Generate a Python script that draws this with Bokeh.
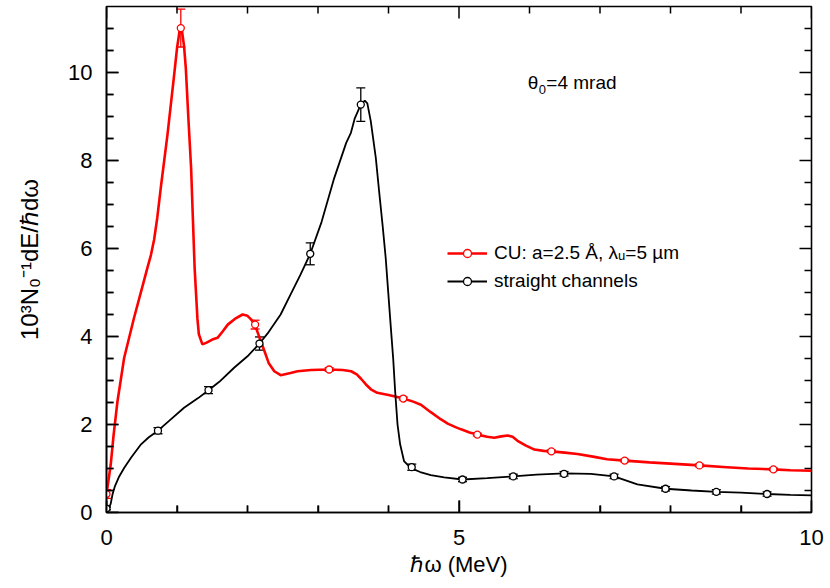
import math
from bokeh.plotting import figure
from bokeh.models import (Range1d, LinearAxis, FixedTicker, Whisker, TeeHead,
                          ColumnDataSource, Label, Legend, LegendItem)
from bokeh.embed import file_html
from bokeh.resources import INLINE

# ---------------- data ----------------
red_curve_x = [0.0, 0.03, 0.06, 0.10, 0.156, 0.25, 0.39, 0.53, 0.58, 0.63, 0.675, 0.72, 0.77,
               0.865, 0.96, 1.00, 1.04, 1.07, 1.10, 1.125, 1.16, 1.20, 1.25, 1.29, 1.31, 1.36,
               1.42, 1.50, 1.575, 1.65, 1.72, 1.82, 1.93, 2.00, 2.05, 2.108, 2.17, 2.24, 2.30,
               2.38, 2.47, 2.61, 2.71, 2.90, 3.158, 3.35, 3.47, 3.55, 3.61, 3.68, 3.75, 3.84,
               4.00, 4.08, 4.21, 4.35, 4.46, 4.60, 4.74, 4.84, 4.95, 5.03, 5.15, 5.26, 5.40,
               5.50, 5.60, 5.69, 5.76, 5.83, 5.95, 6.07, 6.20, 6.31, 6.50, 6.68, 6.90, 7.10,
               7.35, 7.70, 8.00, 8.41, 8.80, 9.10, 9.46, 9.70, 10.0]
red_curve_y = [0.42, 0.75, 1.09, 1.75, 2.53, 3.51, 4.42, 5.26, 5.56, 5.85, 6.20, 6.70, 7.38,
               8.59, 9.95, 10.55, 10.98, 10.95, 10.60, 10.10, 9.00, 7.83, 5.56, 4.40, 4.05, 3.82,
               3.86, 3.93, 3.97, 4.12, 4.27, 4.40, 4.50, 4.47, 4.39, 4.25, 3.98, 3.67, 3.40,
               3.21, 3.12, 3.17, 3.21, 3.24, 3.25, 3.24, 3.21, 3.14, 3.04, 2.91, 2.80, 2.72,
               2.67, 2.64, 2.59, 2.52, 2.45, 2.28, 2.12, 2.02, 1.94, 1.89, 1.82, 1.77, 1.72,
               1.70, 1.73, 1.75, 1.72, 1.63, 1.52, 1.43, 1.40, 1.39, 1.36, 1.33, 1.27, 1.21,
               1.18, 1.14, 1.11, 1.07, 1.03, 1.00, 0.98, 0.96, 0.95]

black_curve_x = [0.0, 0.04, 0.06, 0.085, 0.12, 0.18, 0.25, 0.35, 0.49, 0.60, 0.73, 0.90, 1.10,
                 1.30, 1.447, 1.60, 1.81, 2.00, 2.17, 2.30, 2.47, 2.61, 2.75, 2.89, 3.05, 3.23,
                 3.40, 3.465, 3.52, 3.607, 3.664, 3.70, 3.749, 3.82, 3.867, 3.915, 3.96, 3.995,
                 4.03, 4.066, 4.094, 4.128, 4.165, 4.22, 4.317, 4.45, 4.60, 4.79, 5.05, 5.40,
                 5.77, 6.10, 6.49, 6.87, 7.20, 7.53, 7.93, 8.30, 8.65, 9.00, 9.37, 9.70, 10.0]
black_curve_y = [0.09, 0.12, 0.20, 0.41, 0.60, 0.82, 1.01, 1.25, 1.55, 1.71, 1.86, 2.10, 2.38,
                 2.60, 2.78, 2.97, 3.29, 3.55, 3.84, 4.10, 4.50, 4.95, 5.40, 5.88, 6.60, 7.60,
                 8.40, 8.62, 8.95, 9.27, 9.36, 9.30, 8.89, 8.06, 7.30, 6.55, 5.79, 5.03,
                 4.27, 3.51, 2.76, 2.00, 1.55, 1.17, 1.01, 0.92, 0.85, 0.80, 0.75, 0.78,
                 0.82, 0.86, 0.89, 0.88, 0.82, 0.64, 0.54, 0.50, 0.47, 0.45, 0.42, 0.40, 0.39]

red_pts_x = [0.0, 1.054, 2.108, 3.158, 4.21, 5.26, 6.31, 7.35, 8.41, 9.46]
red_pts_y = [0.42, 11.01, 4.27, 3.25, 2.59, 1.77, 1.39, 1.18, 1.07, 0.98]
red_err = [0.10, 0.43, 0.10, 0.04, 0.03, 0.03, 0.03, 0.03, 0.03, 0.03]

black_pts_x = [0.0, 0.73, 1.447, 2.17, 2.89, 3.607, 4.33, 5.05, 5.77, 6.49, 7.20, 7.93, 8.65, 9.37]
black_pts_y = [0.09, 1.86, 2.78, 3.84, 5.88, 9.27, 1.03, 0.75, 0.82, 0.88, 0.82, 0.54, 0.47, 0.42]
black_err = [0.03, 0.07, 0.08, 0.15, 0.25, 0.38, 0.07, 0.05, 0.05, 0.05, 0.05, 0.05, 0.05, 0.05]

x_major_ticks = [0, 5, 10]
x_minor_ticks = [1, 2, 3, 4, 6, 7, 8, 9]
y_major_ticks = [0, 2, 4, 6, 8, 10]
y_minor_ticks = [0.5, 1, 1.5, 2.5, 3, 3.5, 4.5, 5, 5.5, 6.5, 7, 7.5, 8.5, 9, 9.5, 10.5, 11]

series_labels = ["CU: a=2.5 Å, λᵤ=5 µm", "straight channels"]
x_label = "ℏω (MeV)"
y_label = "10³N₀⁻¹dE/ℏdω"
annot_parts = ["θ", "0", "=4 mrad"]

RED = "#ff0000"
BLACK = "#000000"
FONT = "Liberation Sans"

X0, X1, Y0, Y1 = 0.0, 10.0, 0.0, 11.5
FW, FH = 705, 506

p = figure(frame_width=FW, frame_height=FH,
           min_border_left=106, min_border_right=19, min_border_top=6, min_border_bottom=76,
           x_range=Range1d(X0, X1), y_range=Range1d(Y0, Y1),
           output_backend="svg", toolbar_location=None,
           x_axis_location=None, y_axis_location=None)
p.xgrid.visible = False
p.ygrid.visible = False
p.outline_line_color = BLACK
p.outline_line_width = 1.6

def style_axis(ax):
    ax.axis_line_color = BLACK
    ax.axis_line_width = 1.6
    ax.major_tick_line_color = BLACK
    ax.minor_tick_line_color = BLACK
    ax.major_tick_line_width = 1.5
    ax.minor_tick_line_width = 1.5
    ax.major_tick_in = 12
    ax.major_tick_out = 0
    ax.minor_tick_in = 7
    ax.minor_tick_out = 0
    ax.major_label_text_font = FONT
    ax.major_label_text_color = BLACK
    ax.major_label_text_font_size = "22px"
    ax.axis_label_text_font = FONT
    ax.axis_label_text_font_style = "normal"
    ax.axis_label_text_color = BLACK

xb = LinearAxis(ticker=FixedTicker(ticks=x_major_ticks, minor_ticks=x_minor_ticks))
style_axis(xb)
xb.major_label_standoff = 17
xb.axis_label = x_label
xb.axis_label_text_font_size = "22px"
xb.axis_label_standoff = 4
p.add_layout(xb, "below")

yl = LinearAxis(ticker=FixedTicker(ticks=y_major_ticks, minor_ticks=y_minor_ticks))
style_axis(yl)
yl.major_label_standoff = 14
yl.axis_label = y_label
yl.axis_label_text_font_size = "24px"
yl.axis_label_standoff = 22
p.add_layout(yl, "left")

# inward tick marks on all four edges, drawn as segments inside the frame
px_x = (X1 - X0) / FW   # data units per pixel, x
px_y = (Y1 - Y0) / FH   # data units per pixel, y
MAJ, MIN = 12, 7
sx0, sy0, sx1, sy1 = [], [], [], []
for ticks, ln in ((x_major_ticks, MAJ), (x_minor_ticks, MIN)):
    for t in ticks:
        sx0 += [float(t), float(t)]; sx1 += [float(t), float(t)]
        sy0 += [Y0, Y1]; sy1 += [Y0 + ln * px_y, Y1 - ln * px_y]
for ticks, ln in ((y_major_ticks, MAJ), (y_minor_ticks, MIN)):
    for t in ticks:
        sy0 += [float(t), float(t)]; sy1 += [float(t), float(t)]
        sx0 += [X0, X1]; sx1 += [X0 + ln * px_x, X1 - ln * px_x]
p.segment(sx0, sy0, sx1, sy1, line_color=BLACK, line_width=1.5)

# curves
r_line = p.line(red_curve_x, red_curve_y, line_color=RED, line_width=2.6)
b_line = p.line(black_curve_x, black_curve_y, line_color=BLACK, line_width=1.8)

# error bars
rsrc = ColumnDataSource(dict(x=red_pts_x, y=red_pts_y,
                             lo=[v - e for v, e in zip(red_pts_y, red_err)],
                             hi=[v + e for v, e in zip(red_pts_y, red_err)]))
bsrc = ColumnDataSource(dict(x=black_pts_x, y=black_pts_y,
                             lo=[v - e for v, e in zip(black_pts_y, black_err)],
                             hi=[v + e for v, e in zip(black_pts_y, black_err)]))
for src, col in ((rsrc, RED), (bsrc, BLACK)):
    w = Whisker(source=src, base="x", lower="lo", upper="hi", line_color=col, line_width=1.3,
                upper_head=TeeHead(size=9, line_color=col, line_width=1.3),
                lower_head=TeeHead(size=9, line_color=col, line_width=1.3))
    p.add_layout(w)

r_pts = p.scatter("x", "y", source=rsrc, marker="circle", size=7, fill_color="white",
                  line_color=RED, line_width=1.3)
b_pts = p.scatter("x", "y", source=bsrc, marker="circle", size=7, fill_color="white",
                  line_color=BLACK, line_width=1.3)

legend = Legend(items=[LegendItem(label=series_labels[0], renderers=[r_line, r_pts]),
                       LegendItem(label=series_labels[1], renderers=[b_line, b_pts])],
                location=(341, 220), orientation="vertical",
                glyph_width=40, glyph_height=20, label_height=20, label_standoff=7,
                spacing=6, padding=0, margin=0,
                border_line_color=None, background_fill_alpha=0,
                label_text_font=FONT, label_text_font_size="19px", label_text_color=BLACK)
p.add_layout(legend)

# annotation theta_0 = 4 mrad
ax0, ay0 = 5.976, 9.77
p.add_layout(Label(x=ax0, y=ay0, text=annot_parts[0], text_font=FONT, text_font_size="19px",
                   text_color=BLACK, text_baseline="alphabetic", text_align="left"))
p.add_layout(Label(x=ax0, y=ay0, x_offset=11, y_offset=-7, text=annot_parts[1], text_font=FONT,
                   text_color=BLACK, text_font_size="13px", text_baseline="alphabetic",
                   text_align="left"))
p.add_layout(Label(x=ax0, y=ay0, x_offset=18.5, text=annot_parts[2], text_font=FONT,
                   text_color=BLACK, text_font_size="19px", text_baseline="alphabetic",
                   text_align="left"))

open("out.html", "w").write(file_html(p, INLINE))
